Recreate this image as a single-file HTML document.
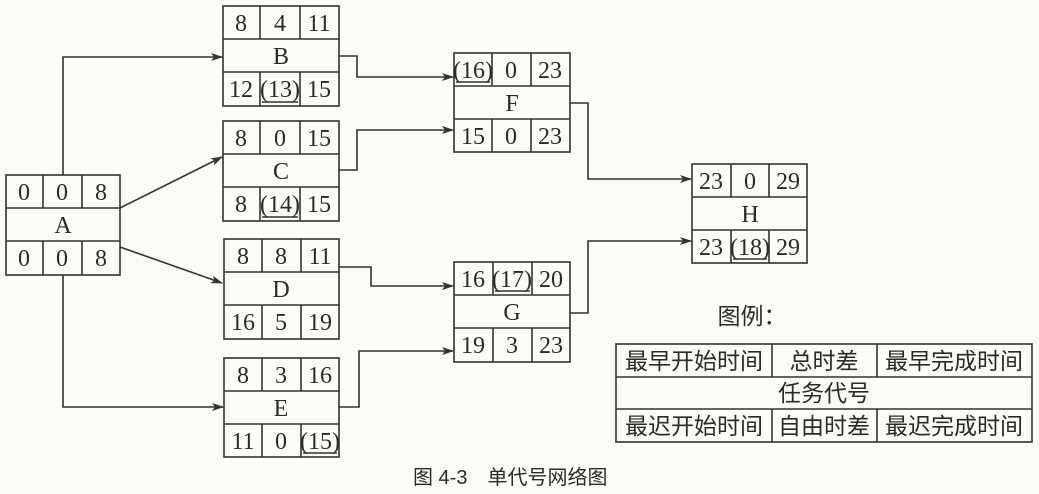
<!DOCTYPE html>
<html><head><meta charset="utf-8"><style>
html,body{margin:0;padding:0;background:#fbfbfa;}
svg{display:block}
text{font-family:"Liberation Serif","Noto Serif CJK SC",serif;fill:#2a2a2a;}
.c{font-family:"Liberation Sans","Noto Sans CJK SC",sans-serif;}
</style></head><body>
<svg width="1039" height="494" viewBox="0 0 1039 494" xmlns="http://www.w3.org/2000/svg">
<defs><marker id="ar" markerWidth="12" markerHeight="8" refX="11" refY="4" orient="auto" markerUnits="userSpaceOnUse"><path d="M0,0 L12,4 L0,8 L3,4 Z" fill="#333"/></marker></defs>
<g stroke="#333" stroke-width="1.6" fill="none">
<polyline points="63,175 63,57 222,57" marker-end="url(#ar)"/>
<line x1="120" y1="208" x2="222" y2="157" marker-end="url(#ar)"/>
<line x1="120" y1="247" x2="222" y2="283" marker-end="url(#ar)"/>
<polyline points="63,275 63,407 223,407" marker-end="url(#ar)"/>
<polyline points="339,56 357,56 357,77 453,77" marker-end="url(#ar)"/>
<polyline points="339,170 357,170 357,130 453,130" marker-end="url(#ar)"/>
<polyline points="570,103 588,103 588,179 691,179" marker-end="url(#ar)"/>
<polyline points="339,267 371,267 371,286 453,286" marker-end="url(#ar)"/>
<polyline points="339,407 359,407 359,351 453,351" marker-end="url(#ar)"/>
<polyline points="570,313 588,313 588,241 691,241" marker-end="url(#ar)"/>
</g>
<g stroke="#333" stroke-width="1.6" fill="none">
<rect x="6" y="175" width="114" height="100"/><line x1="6" y1="208" x2="120" y2="208"/><line x1="6" y1="241" x2="120" y2="241"/>
<line x1="43" y1="175" x2="43" y2="208"/><line x1="82" y1="175" x2="82" y2="208"/><line x1="43" y1="241" x2="43" y2="275"/><line x1="82" y1="241" x2="82" y2="275"/>
<rect x="223" y="6" width="116" height="100"/><line x1="223" y1="39" x2="339" y2="39"/><line x1="223" y1="72" x2="339" y2="72"/>
<line x1="260" y1="6" x2="260" y2="39"/><line x1="300" y1="6" x2="300" y2="39"/><line x1="260" y1="72" x2="260" y2="106"/><line x1="300" y1="72" x2="300" y2="106"/>
<line x1="262" y1="102" x2="298" y2="102"/>
<rect x="223" y="121" width="116" height="100"/><line x1="223" y1="154" x2="339" y2="154"/><line x1="223" y1="187" x2="339" y2="187"/>
<line x1="260" y1="121" x2="260" y2="154"/><line x1="300" y1="121" x2="300" y2="154"/><line x1="260" y1="187" x2="260" y2="221"/><line x1="300" y1="187" x2="300" y2="221"/>
<line x1="262" y1="217" x2="298" y2="217"/>
<rect x="224" y="239" width="115" height="100"/><line x1="224" y1="272" x2="339" y2="272"/><line x1="224" y1="305" x2="339" y2="305"/>
<line x1="262" y1="239" x2="262" y2="272"/><line x1="301" y1="239" x2="301" y2="272"/><line x1="262" y1="305" x2="262" y2="339"/><line x1="301" y1="305" x2="301" y2="339"/>
<rect x="224" y="358" width="115" height="99"/><line x1="224" y1="391" x2="339" y2="391"/><line x1="224" y1="424" x2="339" y2="424"/>
<line x1="262" y1="358" x2="262" y2="391"/><line x1="301" y1="358" x2="301" y2="391"/><line x1="262" y1="424" x2="262" y2="457"/><line x1="301" y1="424" x2="301" y2="457"/>
<line x1="303" y1="453" x2="337" y2="453"/>
<rect x="454" y="53" width="116" height="99"/><line x1="454" y1="86" x2="570" y2="86"/><line x1="454" y1="119" x2="570" y2="119"/>
<line x1="492" y1="53" x2="492" y2="86"/><line x1="531" y1="53" x2="531" y2="86"/><line x1="492" y1="119" x2="492" y2="152"/><line x1="531" y1="119" x2="531" y2="152"/>
<line x1="456" y1="82" x2="490" y2="82"/>
<rect x="454" y="262" width="116" height="100"/><line x1="454" y1="295" x2="570" y2="295"/><line x1="454" y1="328" x2="570" y2="328"/>
<line x1="493" y1="262" x2="493" y2="295"/><line x1="532" y1="262" x2="532" y2="295"/><line x1="493" y1="328" x2="493" y2="362"/><line x1="532" y1="328" x2="532" y2="362"/>
<line x1="495" y1="291" x2="530" y2="291"/>
<rect x="692" y="164" width="115" height="99"/><line x1="692" y1="197" x2="807" y2="197"/><line x1="692" y1="230" x2="807" y2="230"/>
<line x1="731" y1="164" x2="731" y2="197"/><line x1="769" y1="164" x2="769" y2="197"/><line x1="731" y1="230" x2="731" y2="263"/><line x1="769" y1="230" x2="769" y2="263"/>
<line x1="733" y1="259" x2="767" y2="259"/>
<rect x="616" y="344" width="416" height="98"/><line x1="616" y1="377" x2="1032" y2="377"/><line x1="616" y1="409" x2="1032" y2="409"/>
<line x1="772" y1="344" x2="772" y2="377"/><line x1="877" y1="344" x2="877" y2="377"/><line x1="772" y1="409" x2="772" y2="442"/><line x1="877" y1="409" x2="877" y2="442"/>
</g>
<g font-size="24" text-anchor="middle">
<text x="24" y="200">0</text><text x="62" y="200">0</text><text x="101" y="200">8</text>
<text x="63" y="233">A</text>
<text x="24" y="266">0</text><text x="62" y="266">0</text><text x="101" y="266">8</text>
<text x="241" y="31">8</text><text x="280" y="31">4</text><text x="319" y="31">11</text>
<text x="281" y="64">B</text>
<text x="241" y="97">12</text><text x="280" y="97">(13)</text><text x="319" y="97">15</text>
<text x="241" y="146">8</text><text x="280" y="146">0</text><text x="319" y="146">15</text>
<text x="281" y="179">C</text>
<text x="241" y="212">8</text><text x="280" y="212">(14)</text><text x="319" y="212">15</text>
<text x="243" y="264">8</text><text x="281" y="264">8</text><text x="320" y="264">11</text>
<text x="281" y="297">D</text>
<text x="243" y="330">16</text><text x="281" y="330">5</text><text x="320" y="330">19</text>
<text x="243" y="383">8</text><text x="281" y="383">3</text><text x="320" y="383">16</text>
<text x="281" y="416">E</text>
<text x="243" y="449">11</text><text x="281" y="449">0</text><text x="320" y="449">(15)</text>
<text x="473" y="78">(16)</text><text x="511" y="78">0</text><text x="550" y="78">23</text>
<text x="512" y="111">F</text>
<text x="473" y="144">15</text><text x="511" y="144">0</text><text x="550" y="144">23</text>
<text x="473" y="287">16</text><text x="512" y="287">(17)</text><text x="551" y="287">20</text>
<text x="512" y="320">G</text>
<text x="473" y="353">19</text><text x="512" y="353">3</text><text x="551" y="353">23</text>
<text x="711" y="189">23</text><text x="750" y="189">0</text><text x="788" y="189">29</text>
<text x="750" y="222">H</text>
<text x="711" y="255">23</text><text x="750" y="255">(18)</text><text x="788" y="255">29</text>
</g>
<g font-size="23" text-anchor="middle">
<text class="c" x="752" y="324">图例：</text>
<text class="c" x="694" y="369">最早开始时间</text><text class="c" x="824" y="369">总时差</text><text class="c" x="954" y="369">最早完成时间</text>
<text class="c" x="824" y="401">任务代号</text>
<text class="c" x="694" y="434">最迟开始时间</text><text class="c" x="824" y="434">自由时差</text><text class="c" x="954" y="434">最迟完成时间</text>
</g>
<text class="c" x="413" y="484" font-size="20">图 4-3　单代号网络图</text>
</svg>
</body></html>
